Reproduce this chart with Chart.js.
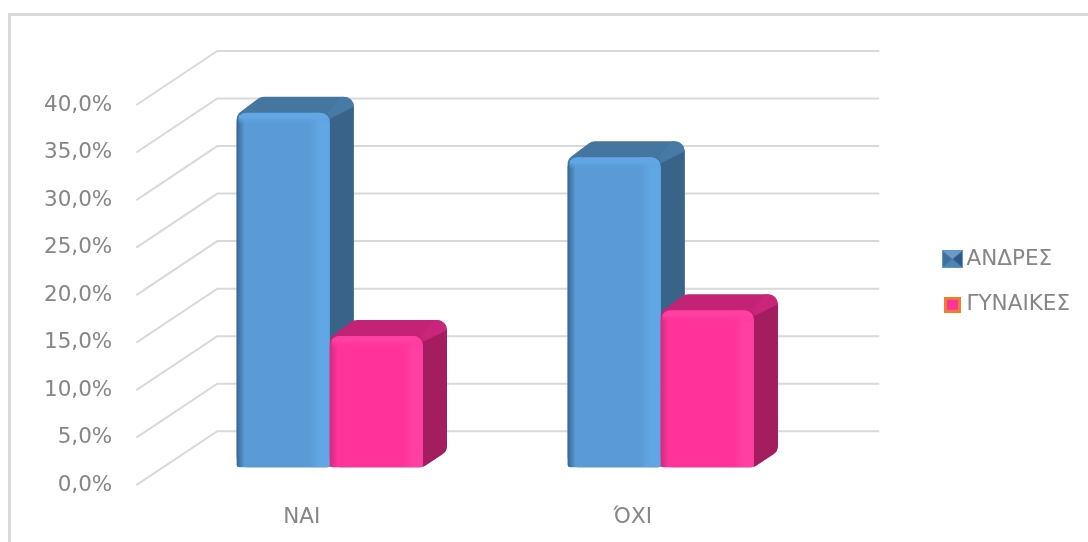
<!DOCTYPE html>
<html>
<head>
<meta charset="utf-8">
<script src="https://cdn.jsdelivr.net/npm/chart.js@4"></script>
<style>
    html, body { margin: 0; padding: 0; background: #fff; overflow: hidden; }
    #wrap { position: relative; width: 1088px; height: 542px; }
    #frame { position: absolute; left: 8px; top: 13px; right: -10px; bottom: -10px; border: 3px solid #d9d9d9; }
    canvas { position: absolute; left: 0; top: 0; filter: blur(0.5px); }
</style>
</head>
<body>
<div id="wrap">
    <div id="frame"></div>
    <canvas id="myChart" width="1088" height="542"></canvas>
</div>
<script>
const categories = ["ΝΑΙ", "ΌΧΙ"]
const men = [37.3, 32.6]
const women = [13.8, 16.5]
const seriesNames = ["ΑΝΔΡΕΣ", "ΓΥΝΑΙΚΕΣ"]

// 3d look: wall offset for the gridlines, bar offset and bar depth
const wall = { x: 81, y: 54 }
const barShift = { x: 28, y: 18 }
const barDepth = { x: 24, y: 16 }
const legendMove = { x: 112, y: -41 }

const shades = [
    { front: "#5b9bd5", top: "#44769f", topLight: "#477ba6", side: "#3a6389", edge: "#36658f", light: "#62a7e5" },
    { front: "#ff3399", top: "#c22374", topLight: "#c9257a", side: "#a41e5f", edge: "#d42a82", light: "#ff3fa2" },
]

// legend marker, the empty strip on the left pulls it closer to the text
function legendBox(w, h, pad, draw) {
    const c = document.createElement("canvas")
    c.width = w + pad
    c.height = h
    const g = c.getContext("2d")
    g.translate(pad, 0)
    draw(g, w, h)
    return c
}

const menBox = legendBox(21, 18, 15, (g, w, h) => {
    g.fillStyle = "#5b9bd5"
    g.fillRect(0, 0, w, h)
    const tri = (pts, col) => {
        g.fillStyle = col
        g.beginPath()
        pts.forEach(p => g.lineTo(p[0], p[1]))
        g.fill()
    }
    tri([[1, 1], [w - 1, 1], [w / 2, h / 2]], "#6b9ac4")
    tri([[1, 1], [1, h - 1], [w / 2, h / 2]], "#3f6f9c")
    tri([[w - 1, 1], [w - 1, h - 1], [w / 2, h / 2]], "#2f5a85")
    tri([[1, h - 1], [w - 1, h - 1], [w / 2, h / 2]], "#4f84b4")
})

const womenBox = legendBox(17, 16, 15, (g, w, h) => {
    g.fillStyle = "#ed7d31"
    g.fillRect(0, 0, w, h)
    g.fillStyle = "#ff3399"
    g.fillRect(3, 3, w - 6, h - 6)
})

function roundedPath(ctx, pts, r) {
    const n = pts.length
    ctx.beginPath()
    ctx.moveTo((pts[n - 1][0] + pts[0][0]) / 2, (pts[n - 1][1] + pts[0][1]) / 2)
    pts.forEach((p, i) => {
        const next = pts[(i + 1) % n]
        ctx.arcTo(p[0], p[1], next[0], next[1], r)
    })
    ctx.closePath()
}

function fillPoly(ctx, pts, col) {
    ctx.fillStyle = col
    ctx.beginPath()
    pts.forEach(p => ctx.lineTo(p[0], p[1]))
    ctx.closePath()
    ctx.fill()
}

function drawDepth(ctx, el, s) {
    const { x, y, base, width } = el.getProps(["x", "y", "base", "width"], true)
    const l = x - width / 2
    const r = x + width / 2
    const dx = barDepth.x
    const dy = barDepth.y
    ctx.save()
    roundedPath(ctx, [[l, y + 2], [l + dx, y - dy], [r + dx, y - dy], [r + dx, base - dy], [r, base], [l, base]], 10)
    ctx.clip()
    ctx.fillStyle = s.top
    ctx.fillRect(l - 2, y - dy - 2, width + dx + 4, base - y + dy + 4)
    fillPoly(ctx, [[r - 2, y], [r + dx - 13, y - dy], [r + dx + 1, y - dy], [r + dx + 1, y - dy + 10], [r + 2, y + 6]], s.topLight)
    fillPoly(ctx, [[r, y + 6], [r + dx, y - dy + 10], [r + dx, base - dy], [r, base]], s.side)
    ctx.restore()
}

function drawBevel(ctx, el, s) {
    const { x, y, base, width } = el.getProps(["x", "y", "base", "width"], true)
    const l = x - width / 2
    const r = x + width / 2
    ctx.save()
    ctx.beginPath()
    ctx.roundRect(l, y, width, base - y, [10, 10, 3, 3])
    ctx.clip()

    let g = ctx.createLinearGradient(l, 0, l + 8, 0)
    g.addColorStop(0, s.edge)
    g.addColorStop(1, s.front)
    ctx.fillStyle = g
    ctx.fillRect(l, y, 8, base - y)

    g = ctx.createLinearGradient(r - 20, 0, r, 0)
    g.addColorStop(0, s.front)
    g.addColorStop(0.5, s.light)
    g.addColorStop(1, s.light)
    ctx.fillStyle = g
    ctx.fillRect(r - 20, y, 20, base - y)

    g = ctx.createLinearGradient(0, y, 0, y + 12)
    g.addColorStop(0, s.light)
    g.addColorStop(0.4, s.light)
    g.addColorStop(1, s.front + "00")
    ctx.fillStyle = g
    ctx.fillRect(l + 2, y, width - 2, 12)
    ctx.restore()
}

const fake3d = {
    id: "fake3d",
    afterLayout(chart) {
        const lg = chart.legend
        lg.left += legendMove.x
        lg.right += legendMove.x
        lg.top += legendMove.y
        lg.bottom += legendMove.y
        lg.adjustHitBoxes()
    },
    beforeDatasetsDraw(chart) {
        const { ctx, chartArea, scales } = chart
        ctx.save()
        ctx.strokeStyle = "#d9d9d9"
        ctx.lineWidth = 2
        scales.y.ticks.forEach(t => {
            const y = scales.y.getPixelForValue(t.value)
            ctx.beginPath()
            ctx.moveTo(chartArea.left, y)
            ctx.lineTo(chartArea.left + wall.x, y - wall.y)
            ctx.lineTo(chartArea.right + wall.x, y - wall.y)
            ctx.stroke()
        })
        ctx.translate(barShift.x, -barShift.y)
        // chart.js paints the last dataset first, here the pink bars must lie on top
        shades.forEach((s, i) => {
            chart.getDatasetMeta(i).data.forEach(el => {
                drawDepth(ctx, el, s)
                el.draw(ctx)
                drawBevel(ctx, el, s)
            })
        })
        ctx.restore()
        return false
    },
}

const textFont = { family: "'DejaVu Sans'", size: 21.5 }

new Chart(document.getElementById("myChart"), {
    type: "bar",
    data: {
        labels: categories,
        datasets: [
            { label: seriesNames[0], data: men, backgroundColor: shades[0].front },
            { label: seriesNames[1], data: women, backgroundColor: shades[1].front },
        ],
    },
    options: {
        responsive: false,
        animation: false,
        categoryPercentage: 0.563,
        barPercentage: 1,
        borderSkipped: false,
        borderRadius: { topLeft: 10, topRight: 10, bottomLeft: 3, bottomRight: 3 },
        layout: { padding: { left: 28, right: 120, top: 105, bottom: 1 } },
        scales: {
            x: {
                grid: { display: false },
                border: { display: false },
                ticks: { color: "#868686", font: textFont, padding: 11, maxRotation: 0 },
            },
            y: {
                min: 0,
                max: 40,
                grid: { display: false },
                border: { display: false },
                ticks: {
                    stepSize: 5,
                    color: "#868686",
                    font: textFont,
                    padding: 16,
                    callback: val => val.toFixed(1).replace(".", ",") + "%",
                },
            },
        },
        plugins: {
            tooltip: { enabled: false },
            legend: {
                position: "right",
                labels: {
                    color: "#868686",
                    font: textFont,
                    usePointStyle: true,
                    padding: 24,
                    generateLabels: () => [
                        { text: seriesNames[0], pointStyle: menBox, datasetIndex: 0, fontColor: "#868686" },
                        { text: seriesNames[1], pointStyle: womenBox, datasetIndex: 1, fontColor: "#868686" },
                    ],
                },
            },
        },
    },
    plugins: [fake3d],
})
</script>
</body>
</html>
